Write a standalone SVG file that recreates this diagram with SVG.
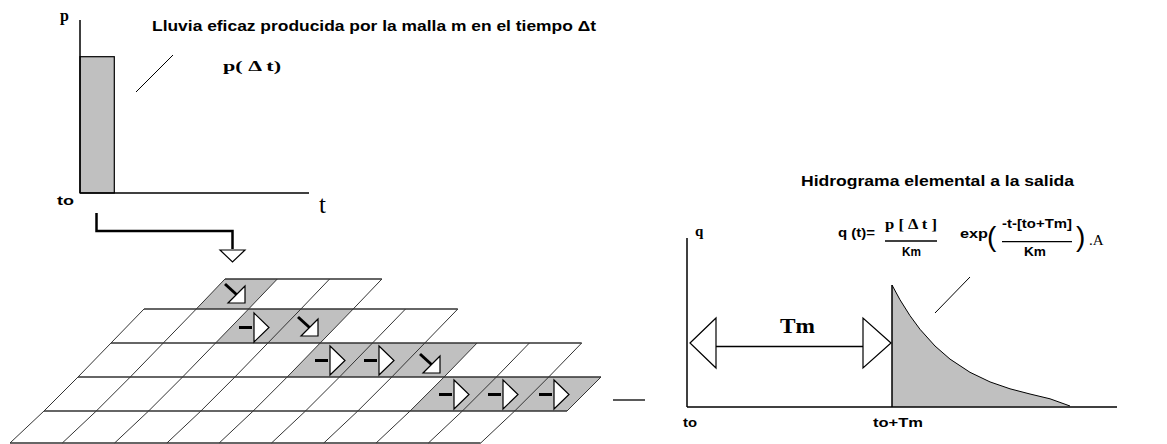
<svg xmlns="http://www.w3.org/2000/svg" xmlns:xlink="http://www.w3.org/1999/xlink" width="1167" height="444" viewBox="0 0 1167 444">
  <style>
    .axis { stroke: #000; stroke-width: 1.5; fill: none; }
    .thin { stroke: #000; stroke-width: 1; fill: none; }
    .hline { stroke: #333; stroke-width: 1.6; fill: none; }
    .dline { stroke: #333; stroke-width: 1; fill: none; }
    .shade { fill: #c0c0c0; stroke: none; }
    .head { fill: #fff; stroke: #000; stroke-width: 1.2; }
    .title { font-family: "Liberation Sans", Arial, sans-serif; font-weight: bold; font-size: 15px; fill: #000; }
    .lbl { font-family: "Liberation Sans", Arial, sans-serif; font-weight: bold; font-size: 12px; fill: #000; }
    .serif { font-family: "Liberation Serif", "Times New Roman", serif; font-weight: bold; fill: #000; }
  </style>
  <defs>
    <!-- flow arrow pointing right: anchor at the middle of the triangle base -->
    <g id="flowE">
      <line x1="-15" y1="0" x2="-2" y2="0" stroke="#000" stroke-width="3"/>
      <polygon class="head" points="0,-14.5 0,14.5 15,0"/>
    </g>
    <!-- flow arrow pointing down-right: anchor at the right-angle corner -->
    <g id="flowSE">
      <line x1="-20" y1="-19" x2="-8.5" y2="-8.5" stroke="#000" stroke-width="3"/>
      <polygon class="head" points="0,-17 0,0 -17,0"/>
    </g>
  </defs>

  <!-- rainfall chart -->
  <g id="rain-chart">
    <rect class="shade" x="80" y="56.7" width="34.3" height="136.3"/>
    <rect x="80" y="56.7" width="34.3" height="136.3" fill="none" stroke="#000" stroke-width="1.2"/>
    <line class="axis" x1="80" y1="20" x2="80" y2="193"/>
    <line class="axis" x1="80" y1="193" x2="309" y2="193"/>
    <line class="thin" x1="173" y1="55" x2="136" y2="92"/>
    <text class="serif" x="60" y="21" font-size="16">p</text>
    <text class="serif" x="223" y="71" font-size="15" textLength="58" lengthAdjust="spacingAndGlyphs">p( Δ t)</text>
    <text class="lbl" x="57" y="205" font-size="13" textLength="17" lengthAdjust="spacingAndGlyphs">to</text>
    <text x="319" y="213" font-family="Liberation Serif, serif" font-size="25" fill="#000">t</text>
    <text class="title" x="152" y="31" textLength="444" lengthAdjust="spacingAndGlyphs">Lluvia eficaz producida por la malla m en el tiempo Δt</text>
  </g>

  <!-- grid of cells draining towards the outlet -->
  <g id="grid">
    <g id="cells-shaded">
      <polygon class="shade" points="225,279 277.3,279 248.6,309 196.3,309"/>
      <polygon class="shade" points="248.6,309 353.2,309 320.2,343 215.6,343"/>
      <polygon class="shade" points="320.2,343 477.1,343 444.1,377 287.2,377"/>
      <polygon class="shade" points="444.1,377 601,377 567,411 410.1,411"/>
    </g>
    <g id="grid-rows">
      <line class="hline" x1="225" y1="279" x2="381.9" y2="279"/>
      <line class="hline" x1="144" y1="309" x2="457.8" y2="309"/>
      <line class="hline" x1="111" y1="343" x2="581.7" y2="343"/>
      <line class="hline" x1="78" y1="377" x2="601" y2="377"/>
      <line class="hline" x1="44" y1="411" x2="567" y2="411"/>
      <line class="hline" x1="10" y1="443" x2="480.7" y2="443"/>
    </g>
    <g id="grid-cols">
      <path class="dline" d="M225,279 L196.3,309 M277.3,279 L248.6,309 M329.6,279 L300.9,309 M381.9,279 L353.2,309"/>
      <path class="dline" d="M144,309 L111,343 M196.3,309 L163.3,343 M248.6,309 L215.6,343 M300.9,309 L267.9,343 M353.2,309 L320.2,343 M405.5,309 L372.5,343 M457.8,309 L424.8,343"/>
      <path class="dline" d="M111,343 L78,377 M163.3,343 L130.3,377 M215.6,343 L182.6,377 M267.9,343 L234.9,377 M320.2,343 L287.2,377 M372.5,343 L339.5,377 M424.8,343 L391.8,377 M477.1,343 L444.1,377 M529.4,343 L496.4,377 M581.7,343 L548.7,377"/>
      <path class="dline" d="M78,377 L44,411 M130.3,377 L96.3,411 M182.6,377 L148.6,411 M234.9,377 L200.9,411 M287.2,377 L253.2,411 M339.5,377 L305.5,411 M391.8,377 L357.8,411 M444.1,377 L410.1,411 M496.4,377 L462.4,411 M548.7,377 L514.7,411 M601,377 L567,411"/>
      <path class="dline" d="M44,411 L10,443 M96.3,411 L62.3,443 M148.6,411 L114.6,443 M200.9,411 L166.9,443 M253.2,411 L219.2,443 M305.5,411 L271.5,443 M357.8,411 L323.8,443 M410.1,411 L376.1,443 M462.4,411 L428.4,443 M514.7,411 L480.7,443"/>
    </g>
    <g id="flow-arrows">
      <use xlink:href="#flowSE" x="245" y="303"/>
      <use xlink:href="#flowE" x="254" y="327.5"/>
      <use xlink:href="#flowSE" x="318" y="336"/>
      <use xlink:href="#flowE" x="330" y="360.5"/>
      <use xlink:href="#flowE" x="379" y="360.5"/>
      <use xlink:href="#flowSE" x="440" y="373"/>
      <use xlink:href="#flowE" x="454" y="394.5"/>
      <use xlink:href="#flowE" x="503" y="394.5"/>
      <use xlink:href="#flowE" x="554" y="394.5"/>
    </g>
  </g>

  <!-- outlet hydrograph -->
  <g id="hydrograph">
    <path class="shade" d="M892,407 V285 L900,299.8 L910,315.7 L920,329.3 L935,346 L950,359.1 L970,372.3 L990,381.9 L1010,388.8 L1030,394 L1050,398.8 L1070,406 Z"/>
    <path class="thin" d="M892,285 L900,299.8 L910,315.7 L920,329.3 L935,346 L950,359.1 L970,372.3 L990,381.9 L1010,388.8 L1030,394 L1050,398.8 L1070,406"/>
    <line class="axis" x1="687" y1="238" x2="687" y2="407"/>
    <line class="axis" x1="687" y1="407" x2="1117" y2="407"/>
    <line class="axis" x1="892" y1="285" x2="892" y2="407"/>
    <line class="thin" x1="935" y1="313" x2="970" y2="277"/>
    <text class="serif" x="695" y="236" font-size="15">q</text>
    <text class="lbl" x="683" y="427" textLength="14" lengthAdjust="spacingAndGlyphs">to</text>
    <text class="lbl" x="873" y="427" textLength="50" lengthAdjust="spacingAndGlyphs">to+Tm</text>
    <text class="title" x="801" y="186" textLength="273" lengthAdjust="spacingAndGlyphs">Hidrograma elemental a la salida</text>
  </g>

  <!-- travel time Tm -->
  <g id="travel-time">
    <line class="axis" x1="716" y1="346.5" x2="863" y2="346.5"/>
    <polygon class="head" points="690,343 716,318 716,368"/>
    <polygon class="head" points="891,343 863,318 863,368"/>
    <text class="serif" x="780" y="333" font-size="22" textLength="35" lengthAdjust="spacingAndGlyphs">Tm</text>
  </g>

  <!-- unit response formula -->
  <g id="formula">
    <text class="lbl" x="838" y="237" font-size="13" textLength="37" lengthAdjust="spacingAndGlyphs">q (t)=</text>
    <text class="serif" x="885" y="229" font-size="15" textLength="52" lengthAdjust="spacingAndGlyphs">p [ Δ t ]</text>
    <line x1="885" y1="241" x2="937" y2="241" stroke="#000" stroke-width="1.3"/>
    <text class="lbl" x="902" y="256" font-size="14" textLength="19" lengthAdjust="spacingAndGlyphs">Km</text>
    <text class="lbl" x="960" y="238" font-size="14" textLength="28" lengthAdjust="spacingAndGlyphs">exp</text>
    <text x="987" y="246" font-family="Liberation Sans, sans-serif" font-size="28" fill="#000">(</text>
    <text class="lbl" x="1002" y="228" font-size="12" textLength="70" lengthAdjust="spacingAndGlyphs">-t-[to+Tm]</text>
    <line x1="1002" y1="241.7" x2="1072" y2="241.7" stroke="#000" stroke-width="1.3"/>
    <text class="lbl" x="1024" y="256" font-size="14" textLength="22" lengthAdjust="spacingAndGlyphs">Km</text>
    <text x="1076" y="246" font-family="Liberation Sans, sans-serif" font-size="28" fill="#000">)</text>
    <text x="1089" y="245" font-family="Liberation Serif, serif" font-size="15" fill="#000">.A</text>
  </g>

  <!-- connectors -->
  <g id="connectors">
    <path d="M96.5,213 V231 H232.5 V249" fill="none" stroke="#000" stroke-width="2.5"/>
    <polygon class="head" points="220,250 245,250 232.5,262"/>
    <line x1="613" y1="400" x2="645" y2="400" stroke="#000" stroke-width="1.3"/>
  </g>
</svg>
